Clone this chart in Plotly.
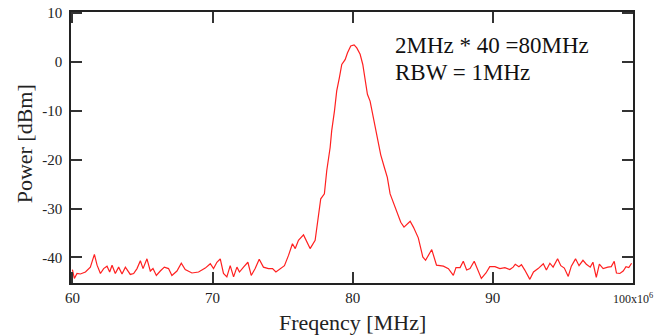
import plotly.graph_objects as go

freq_mhz = [
    60.0, 60.14, 60.33, 60.57, 60.93, 61.28, 61.57, 61.76, 62.0, 62.23, 62.47, 62.66, 62.83,
    63.06, 63.3, 63.54, 63.78, 64.13, 64.37, 64.61, 64.85, 65.04, 65.32, 65.56, 65.75, 65.99,
    66.27, 66.56, 66.86, 67.1, 67.46, 67.77, 68.05, 68.53, 69.0, 69.48, 69.84, 70.07, 70.31,
    70.55, 70.78, 71.02, 71.26, 71.5, 71.74, 71.92, 72.21, 72.52, 72.76, 73.04, 73.33, 73.63,
    73.99, 74.28, 74.52, 74.83, 75.13, 75.42, 75.7, 75.9, 76.13, 76.49, 76.96, 77.32, 77.44,
    77.72, 77.98, 78.15, 78.39, 78.5, 78.7, 78.86, 79.05, 79.22, 79.46, 79.63, 79.86, 80.1,
    80.29, 80.53, 80.72, 80.88, 81.05, 81.24, 81.48, 81.76, 82.0, 82.26, 82.47, 82.67, 82.9,
    83.14, 83.43, 83.66, 84.1, 84.33, 84.68, 85.0, 85.2, 85.64, 85.98, 86.47, 86.83, 87.18,
    87.37, 87.66, 87.89, 88.13, 88.37, 88.67, 88.96, 89.18, 89.51, 89.78, 90.15, 90.5, 90.86,
    91.21, 91.45, 91.6, 91.86, 92.04, 92.28, 92.64, 92.9, 93.23, 93.6, 93.82, 94.07, 94.3,
    94.62, 94.85, 95.1, 95.38, 95.6, 95.9, 96.15, 96.43, 96.67, 96.95, 97.14, 97.38, 97.6,
    97.87, 98.2, 98.45, 98.66, 98.82, 99.06, 99.3, 99.5, 99.7, 99.9,
]
power_dbm = [
    -42.5, -44.3, -43.3, -43.4, -43.0, -42.0, -39.4, -41.6, -43.3, -42.3, -41.8, -43.0, -41.6,
    -43.3, -42.0, -43.4, -42.0, -43.5, -43.3, -42.3, -40.7, -42.3, -40.3, -42.8, -42.3, -43.7,
    -42.8, -42.0, -42.3, -43.7, -42.8, -41.2, -42.5, -43.2, -43.0, -42.2, -41.3, -42.3, -41.0,
    -40.3, -43.3, -44.0, -41.7, -44.0, -42.0, -43.0, -42.0, -41.0, -43.7, -42.3, -40.4, -42.0,
    -42.3, -42.3, -43.0, -42.3, -41.7, -39.6, -37.2, -38.2, -36.5, -35.4, -38.2, -36.5, -33.8,
    -28.0, -27.0, -22.2, -17.5, -14.1, -10.0, -5.9, -3.2, -0.5, 0.5, 1.9, 3.3, 3.5,
    2.9, 1.6, -0.5, -3.2, -6.6, -8.0, -11.4, -15.4, -19.0, -21.6, -23.6, -27.0, -28.7,
    -30.6, -32.8, -33.8, -32.6, -33.8, -36.0, -39.9, -40.6, -38.4, -41.6, -41.8, -42.3, -43.7,
    -42.1, -42.1, -40.8, -42.6, -42.3, -40.8, -42.7, -44.3, -43.2, -41.9, -41.9, -42.3, -42.1,
    -42.5, -42.0, -41.4, -41.9, -41.5, -42.6, -44.5, -43.0, -42.3, -41.3, -42.6, -41.2, -42.0,
    -40.3, -41.7, -42.2, -43.9, -41.8, -40.3, -41.7, -40.6, -41.4, -42.0, -41.0, -44.1, -41.4,
    -42.3, -42.0, -41.9, -40.8, -43.2, -43.3, -42.8, -41.9, -42.1, -41.2,
]

x_tickvals = [60, 70, 80, 90, 100]
x_ticktext = ["60", "70", "80", "90", ""]
x_last_label = "100x10<sup>6</sup>"
y_tickvals = [-40, -30, -20, -10, 0, 10]
y_ticktext = ["-40", "-30", "-20", "-10", "0", "10"]
note_lines = ["2MHz * 40 =80MHz", "RBW = 1MHz"]
x_title = "Freqency [MHz]"
y_title = "Power [dBm]"

serif = "Liberation Serif, Times New Roman, serif"

fig = go.Figure()
fig.add_trace(go.Scatter(
    x=freq_mhz, y=power_dbm, mode="lines",
    line=dict(color="#ff2020", width=1.2), showlegend=False,
))

axis_common = dict(
    showline=True, linecolor="#222", linewidth=1.5, mirror="ticks",
    ticks="inside", tickcolor="#333", tickwidth=1.5, ticklen=11,
    showgrid=False, zeroline=False, automargin=False,
    tickfont=dict(family=serif, size=15, color="#222"),
)

fig.update_xaxes(range=[59.9, 100], tickvals=x_tickvals, ticktext=x_ticktext, **axis_common)
fig.update_yaxes(range=[-45.25, 10.25], tickvals=y_tickvals, ticktext=y_ticktext,
                 ticklabelstandoff=4, **axis_common)

fig.add_annotation(x=100, y=-0.058, xref="x", yref="paper", text=x_last_label,
                   showarrow=False, xanchor="center", yanchor="middle",
                   font=dict(family=serif, size=12, color="#222"))
fig.add_annotation(x=0.5, y=-0.144, xref="paper", yref="paper", text=x_title,
                   showarrow=False, xanchor="center", yanchor="middle",
                   font=dict(family=serif, size=22, color="#222"))
fig.add_annotation(x=-0.082, y=0.515, xref="paper", yref="paper", text=y_title,
                   showarrow=False, xanchor="center", yanchor="middle", textangle=-90,
                   font=dict(family=serif, size=22, color="#222"))

for i, txt in enumerate(note_lines):
    fig.add_annotation(
        x=82.85, y=3.45 - i * 5.55, xref="x", yref="y", text=txt, showarrow=False,
        xanchor="left", yanchor="middle",
        font=dict(family=serif, size=23, color="#111"),
    )

fig.update_layout(
    width=668, height=336,
    margin=dict(l=71, r=35, t=12, b=53),
    paper_bgcolor="white", plot_bgcolor="white",
)

fig.write_html("out.html", config={"displayModeBar": False},
               post_script="document.body.style.margin='0';")
